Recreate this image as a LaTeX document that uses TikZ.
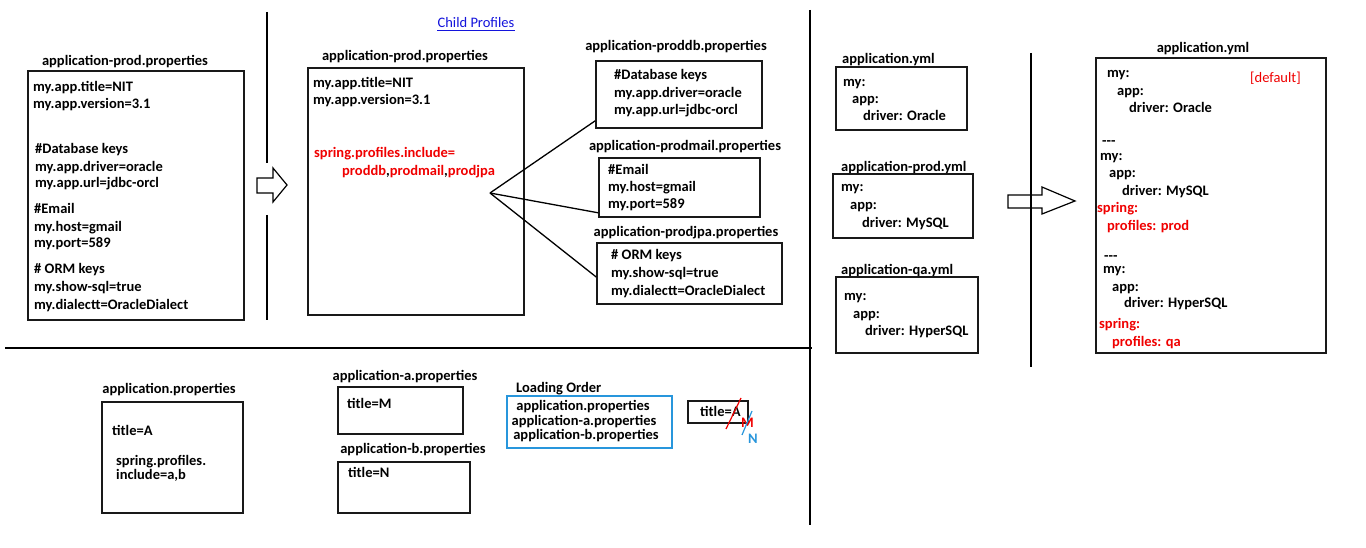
\documentclass[tikz,border=0pt]{standalone}
\usepackage{fontspec}
\setmainfont{Carlito}
\usetikzlibrary{fit}
\definecolor{rd}{RGB}{240,0,0}
\definecolor{lblue}{RGB}{40,150,220}
\definecolor{lnk}{RGB}{20,20,220}
\tikzset{
  txt/.style={font=\fontsize{14.5}{17}\selectfont\bfseries, inner sep=0pt, anchor=base west},
  ttl/.style={txt, anchor=base},
  rtxt/.style={txt, text=rd},
  box/.style={draw=black!90, line width=1.6pt, inner sep=0pt},
  sep/.style={draw=black, line width=1.3pt},
  fanline/.style={draw=black, line width=1.3pt},
  blockarrow/.style={draw=black, line width=1.2pt, fill=white, line join=miter},
}
\begin{document}
\begin{tikzpicture}[x=1pt,y=-1pt]
\useasboundingbox[fill=white] (0,0) rectangle (1366,548);

% separators
\draw[sep] (267,12) coordinate (v1a) -- (267,163) coordinate (v1b);
\draw[sep] (267,215) coordinate (v1c) -- (267,320) coordinate (v1d);
\draw[sep] (5,348) coordinate (ha) -- (812,348) coordinate (hb);
\draw[sep] (810,10) coordinate (v2a) -- (810,525) coordinate (v2b);

% ---------- left block ----------
\node[ttl] (lttl) at (125,66) {application-prod.properties};
\node[box, fit={(28,71) (244,320)}] (lbox) {};
\node[txt] (l1) at (33,92) {my.app.title=NIT};
\node[txt] (l2) at (33,109) {my.app.version=3.1};
\node[txt] (l3) at (35,154) {\#Database keys};
\node[txt] (l4) at (35,172) {my.app.driver=oracle};
\node[txt] (l5) at (35,188) {my.app.url=jdbc-orcl};
\node[txt] (l6) at (34,214) {\#Email};
\node[txt] (l7) at (34,232) {my.host=gmail};
\node[txt] (l8) at (34,248) {my.port=589};
\node[txt] (l9) at (34,274) {\# ORM keys};
\node[txt] (l10) at (34,291) {my.show-sql=true};
\node[txt] (l11) at (34,309) {my.dialectt=OracleDialect};

% left block arrow
\draw[blockarrow] (257,178) -- (273,178) -- (273,168) -- (287,185) -- (273,202) -- (273,193) -- (257,193) -- cycle;

% ---------- middle ----------
\node[txt, anchor=base, font=\fontsize{14.5}{17}\selectfont, text=lnk] (child) at (476,28) {Child Profiles};
\draw[lnk, line width=0.9pt] ([yshift=-2pt]child.base west) -- ([yshift=-2pt]child.base east);
\node[ttl] (mttl) at (405,61) {application-prod.properties};
\node[box, fit={(308,68) (524,315)}] (mbox) {};
\node[txt] (m1) at (313,88) {my.app.title=NIT};
\node[txt] (m2) at (313,105) {my.app.version=3.1};
\node[rtxt] (m3) at (314,158) {spring.profiles.include=};
\node[txt] (m4) at (342,176) {\textcolor{rd}{proddb},\textcolor{rd}{prodmail},\textcolor{rd}{prodjpa}};
\coordinate (fan) at (490,193);

\node[ttl] (dbttl) at (676,51) {application-proddb.properties};
\node[box, fit={(596,61) (762,128)}] (db) {};
\node[txt] (d1) at (614,80) {\#Database keys};
\node[txt] (d2) at (614,98) {my.app.driver=oracle};
\node[txt] (d3) at (614,115) {my.app.url=jdbc-orcl};

\node[ttl] (mlttl) at (685,151) {application-prodmail.properties};
\node[box, fit={(599,158) (760,217)}] (mail) {};
\node[txt] (e1) at (608,175) {\#Email};
\node[txt] (e2) at (608,192) {my.host=gmail};
\node[txt] (e3) at (608,209) {my.port=589};

\node[ttl] (jpttl) at (686,237) {application-prodjpa.properties};
\node[box, fit={(597,243) (782,304)}] (jpa) {};
\node[txt] (j1) at (611,260) {\# ORM keys};
\node[txt] (j2) at (611,278) {my.show-sql=true};
\node[txt] (j3) at (611,295) {my.dialectt=OracleDialect};

\draw[fanline] (fan) -- ([yshift=8pt]db.south west);
\draw[fanline] (fan) -- ([yshift=5pt]mail.south west);
\draw[fanline] (fan) -- ([yshift=-3.5pt]jpa.west);

% ---------- right: yml ----------
\node[txt] (y1t) at (842,64) {application.yml};
\node[box, fit={(836,67) (967,130)}] (y1) {};
\node[txt] (y1a) at (843,87) {my:};
\node[txt] (y1b) at (852,104) {app:};
\node[txt] (y1c) at (863,121) {driver: Oracle};

\node[txt] (y2t) at (841,172) {application-prod.yml};
\node[box, fit={(833,174) (973,238)}] (y2) {};
\node[txt] (y2a) at (841,192) {my:};
\node[txt] (y2b) at (850,210) {app:};
\node[txt] (y2c) at (862,228) {driver: MySQL};

\node[txt] (y3t) at (841,275) {application-qa.yml};
\node[box, fit={(836,277) (978,353)}] (y3) {};
\node[txt] (y3a) at (844,300) {my:};
\node[txt] (y3b) at (853,318) {app:};
\node[txt] (y3c) at (865,335) {driver: HyperSQL};

\draw[blockarrow] (1008,195) -- (1042,195) -- (1042,187) -- (1075,201) -- (1042,214) -- (1042,208) -- (1008,208) -- cycle;
\draw[sep] (1031,53) coordinate (v3a) -- (1031,367) coordinate (v3b);

\node[ttl] (ybt) at (1203,53) {application.yml};
\node[box, fit={(1096,58) (1326,353)}] (yb) {};
\node[txt] (b1) at (1107,78) {my:};
\node[txt] (b2) at (1117,96) {app:};
\node[txt] (b3) at (1129,113) {driver: Oracle};
\node[txt, font=\fontsize{14.5}{17}\selectfont, text=rd] (bdef) at (1250,83) {[default]};
\node[txt] (b4) at (1102,146) {-{}-{}-};
\node[txt] (b5) at (1100,161) {my:};
\node[txt] (b6) at (1109,178) {app:};
\node[txt] (b7) at (1122,196) {driver: MySQL};
\node[rtxt] (b8) at (1097,213) {spring:};
\node[rtxt] (b9) at (1107,231) {profiles: prod};
\node[txt] (b10) at (1104,261) {-{}-{}-};
\node[txt] (b11) at (1103,273) {my:};
\node[txt] (b12) at (1112,291) {app:};
\node[txt] (b13) at (1124,308) {driver: HyperSQL};
\node[rtxt] (b14) at (1099,328) {spring:};
\node[rtxt] (b15) at (1112,346) {profiles: qa};

% ---------- bottom ----------
\node[ttl] (apt) at (169,393) {application.properties};
\node[box, fit={(102,402) (243,513)}] (ap) {};
\node[txt] (p1) at (112,435) {title=A};
\node[txt] (p2) at (116,465) {spring.profiles.};
\node[txt] (p3) at (116,479) {include=a,b};

\node[ttl] (aat) at (405,380) {application-a.properties};
\node[box, fit={(338,387) (463,434)}] (aa) {};
\node[txt] (a1) at (347,408) {title=M};

\node[ttl] (abt) at (413,453) {application-b.properties};
\node[box, fit={(338,462) (470,513)}] (ab) {};
\node[txt] (a2) at (348,477) {title=N};

\node[txt] (lot) at (516,392) {Loading Order};
\node[box, draw=lblue, line width=1.1pt, fit={(507,396) (672,448)}] (lo) {};
\node[ttl] (lo1) at (583,410) {application.properties};
\node[ttl] (lo2) at (584,425) {application-a.properties};
\node[ttl] (lo3) at (586,439) {application-b.properties};

\node[box, fit={(688,401) (748,423)}] (tb) {};
\node[txt] (tA) at (700,416) {title=A};
\draw[rd, line width=1.2pt] (726,429) coordinate (ra) -- (741,398) coordinate (rb);
\node[rtxt] (tM) at (741,427) {M};
\draw[lblue, line width=1.2pt] (742,435) coordinate (na) -- (752,411) coordinate (nb);
\node[txt, text=lblue] (tN) at (748,443) {N};
\end{tikzpicture}
\end{document}
